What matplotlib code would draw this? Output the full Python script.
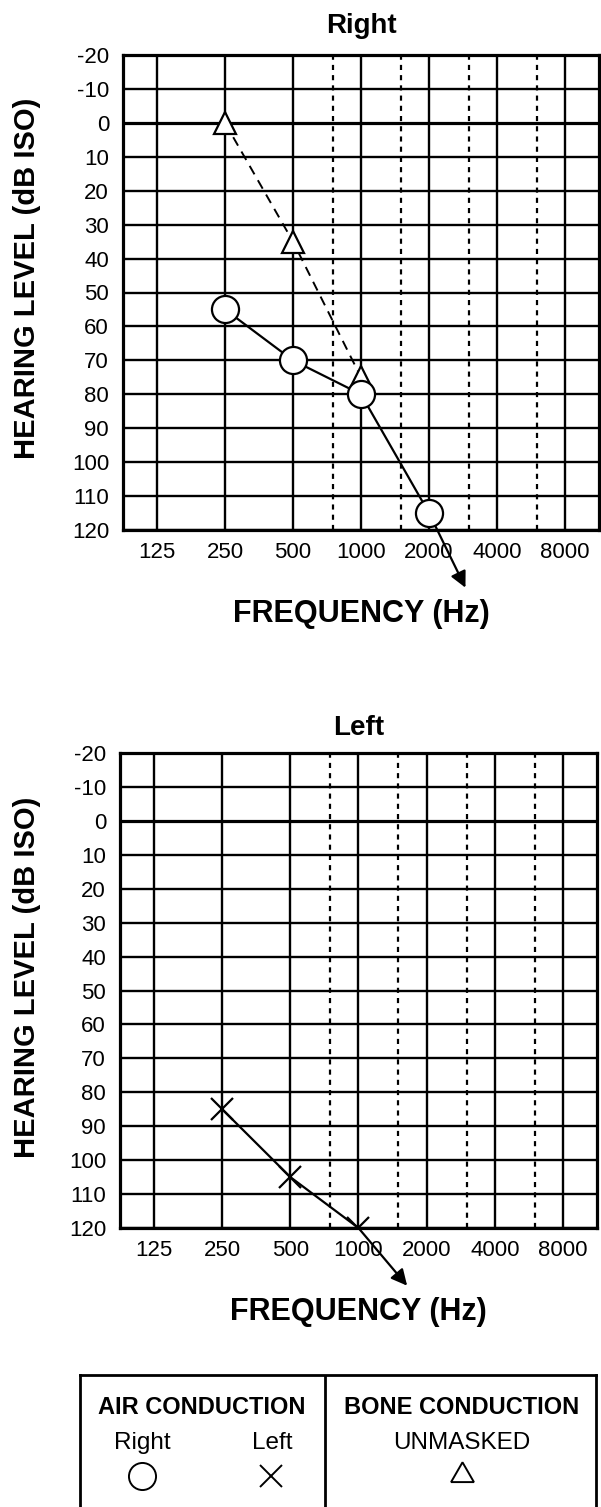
import numpy as np
import matplotlib
matplotlib.use('Agg')
import matplotlib.pyplot as plt

plt.rcParams['font.family'] = ['Liberation Sans', 'DejaVu Sans']

# grid frequencies (Hz) and hearing levels (dB)
freq_ticks = [125, 250, 500, 1000, 2000, 4000, 8000]
freq_mid = [750, 1500, 3000, 6000]
level_ticks = list(range(-20, 121, 10))

# right ear
right_air_freq = [250, 500, 1000, 2000]
right_air_db = [55, 70, 80, 115]
right_bone_freq = [250, 500, 1000]
right_bone_db = [0, 35, 75]
right_arrow_freq = [2000, 2900]   # no response arrow, start -> end
right_arrow_db = [115, 137]

# left ear
left_air_freq = [250, 500, 1000]
left_air_db = [85, 105, 120]
left_arrow_freq = [1000, 1640]
left_arrow_db = [120, 137]


def setup_audiogram(ax, title, title_pad):
    ax.set_xscale('log', base=2)
    ax.set_xlim(125 / np.sqrt(2), 8000 * np.sqrt(2))
    ax.set_ylim(120, -20)
    for f in freq_ticks:
        ax.axvline(f, color='black', lw=1.7, zorder=1)
    for f in freq_mid:
        ax.axvline(f, color='black', lw=1.6, ls=(0, (2.3, 2.3)), zorder=1)
    for db in level_ticks:
        ax.axhline(db, color='black', lw=2.3 if db == 0 else 1.7, zorder=1)
    ax.set_xticks(freq_ticks)
    ax.set_xticklabels([str(f) for f in freq_ticks])
    ax.xaxis.set_minor_locator(matplotlib.ticker.NullLocator())
    ax.set_yticks(level_ticks)
    ax.set_yticklabels([str(v) for v in level_ticks])
    ax.tick_params(axis='both', length=0, labelsize=16)
    ax.tick_params(axis='y', pad=10)
    ax.tick_params(axis='x', pad=9)
    for s in ax.spines.values():
        s.set_linewidth(2.3)
    ax.set_title(title, fontsize=20, fontweight='bold', pad=title_pad)
    ax.set_xlabel('FREQUENCY (Hz)', fontsize=22, fontweight='bold', va='top')
    ax.xaxis.set_label_coords(0.5, -0.145)


def no_response_arrow(ax, fx, dbx):
    ax.annotate('', xy=(fx[1], dbx[1]), xytext=(fx[0], dbx[0]),
                arrowprops=dict(arrowstyle='-|>', color='black', lw=1.6,
                                mutation_scale=24, shrinkA=0, shrinkB=0),
                annotation_clip=False, zorder=2)


fig = plt.figure(figsize=(6.01, 15.07), dpi=100)
W, H = 601, 1507

# Right ear
ax1 = fig.add_axes([123 / W, 1 - 530 / H, 476 / W, 475 / H])
setup_audiogram(ax1, 'Right', 16)
ax1.plot(right_bone_freq, right_bone_db, color='black', lw=1.4,
         ls=(0, (5, 3.5)), marker='^', markersize=16, mfc='white',
         mec='black', mew=1.6, zorder=3)
ax1.plot(right_air_freq, right_air_db, color='black', lw=1.6, marker='o',
         markersize=19.5, mfc='white', mec='black', mew=1.6, zorder=4)
no_response_arrow(ax1, right_arrow_freq, right_arrow_db)
fig.text(27 / W, 1 - 278 / H, 'HEARING LEVEL (dB ISO)', rotation=90,
         ha='center', va='center', fontsize=21, fontweight='bold')

# Left ear
ax2 = fig.add_axes([120 / W, 1 - 1228 / H, 477 / W, 475 / H])
setup_audiogram(ax2, 'Left', 13)
ax2.plot(left_air_freq, left_air_db, color='black', lw=1.6, marker='x',
         markersize=16.5, mec='black', mew=1.6, zorder=4)
no_response_arrow(ax2, left_arrow_freq, left_arrow_db)
fig.text(27 / W, 1 - 977 / H, 'HEARING LEVEL (dB ISO)', rotation=90,
         ha='center', va='center', fontsize=21, fontweight='bold')

# symbol key
axl = fig.add_axes([80 / W, -0.01, 516 / W, 132 / H + 0.01])
axl.set_xlim(0, 1)
axl.set_ylim(-0.1, 1)
axl.set_xticks([])
axl.set_yticks([])
axl.spines['bottom'].set_visible(False)
for s in ['top', 'left', 'right']:
    axl.spines[s].set_linewidth(2)
axl.axvline(0.475, color='black', lw=2)
axl.text(0.236, 0.76, 'AIR CONDUCTION', ha='center', va='center',
         fontsize=17, fontweight='bold')
axl.text(0.740, 0.76, 'BONE CONDUCTION', ha='center', va='center',
         fontsize=17, fontweight='bold')
axl.text(0.120, 0.49, 'Right', ha='center', va='center', fontsize=17.5)
axl.text(0.372, 0.49, 'Left', ha='center', va='center', fontsize=17.5)
axl.text(0.740, 0.49, 'UNMASKED', ha='center', va='center', fontsize=17.5)
axl.plot([0.120], [0.245], marker='o', markersize=19.5, mfc='white',
         mec='black', mew=1.4)
axl.plot([0.370], [0.245], marker='x', markersize=16, mec='black', mew=1.4)
axl.plot([0.740], [0.255], marker=(3, 0, 0), markersize=19, mfc='white',
         mec='black', mew=1.4)

fig.savefig('out.png', dpi=100)
